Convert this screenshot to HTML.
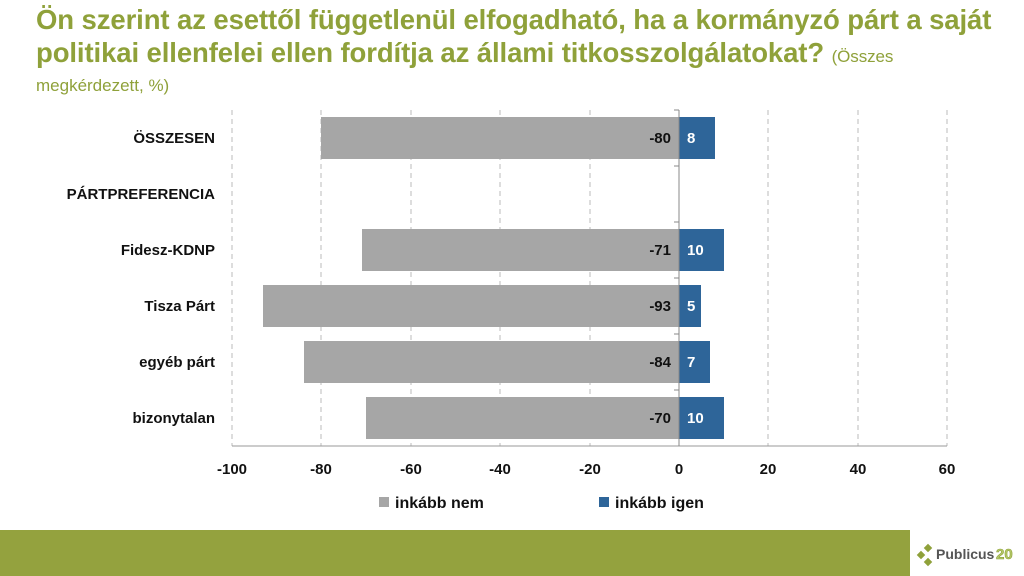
<!DOCTYPE html>
<html><head><meta charset="utf-8"><style>
body{margin:0;width:1024px;height:576px;overflow:hidden;background:#fff;font-family:"Liberation Sans",sans-serif;position:relative}
.t{position:absolute;left:36px;top:3px;width:990px;color:#8FA13A;font-weight:bold;font-size:27.5px;line-height:33px;letter-spacing:-0.1px}
.t span{font-weight:normal;font-size:17px}
.s{position:absolute;left:36px;top:76px;color:#8FA13A;font-size:17px}
</style></head><body>
<div class="t">Ön szerint az esettől függetlenül elfogadható, ha a kormányzó párt a saját politikai ellenfelei ellen fordítja az állami titkosszolgálatokat? <span>(Összes</span></div>
<div class="s">megkérdezett, %)</div>
<svg width="1024" height="576" style="position:absolute;left:0;top:0" font-family="Liberation Sans, sans-serif">
<g stroke="#bbb" stroke-dasharray="5,4" stroke-width="1">
<line x1="232" y1="110" x2="232" y2="446"/><line x1="321" y1="110" x2="321" y2="446"/><line x1="411" y1="110" x2="411" y2="446"/><line x1="500" y1="110" x2="500" y2="446"/><line x1="590" y1="110" x2="590" y2="446"/><line x1="768" y1="110" x2="768" y2="446"/><line x1="858" y1="110" x2="858" y2="446"/><line x1="947" y1="110" x2="947" y2="446"/>
</g>
<g fill="#A6A6A6">
<rect x="321" y="117" width="358" height="42"/>
<rect x="362" y="229" width="317" height="42"/>
<rect x="263" y="285" width="416" height="42"/>
<rect x="304" y="341" width="375" height="42"/>
<rect x="366" y="397" width="313" height="42"/>
</g>
<g fill="#2E6599">
<rect x="679" y="117" width="36" height="42"/>
<rect x="679" y="229" width="45" height="42"/>
<rect x="679" y="285" width="22" height="42"/>
<rect x="679" y="341" width="31" height="42"/>
<rect x="679" y="397" width="45" height="42"/>
</g>
<line x1="232" y1="446" x2="947" y2="446" stroke="#999"/>
<line x1="679" y1="110" x2="679" y2="446" stroke="#888"/>
<g stroke="#888"><line x1="674" y1="110" x2="679" y2="110"/><line x1="674" y1="166" x2="679" y2="166"/><line x1="674" y1="222" x2="679" y2="222"/><line x1="674" y1="278" x2="679" y2="278"/><line x1="674" y1="334" x2="679" y2="334"/><line x1="674" y1="390" x2="679" y2="390"/></g>
<g font-size="15" font-weight="bold" text-anchor="end" fill="#111">
<text x="671" y="143">-80</text><text x="671" y="255">-71</text><text x="671" y="311">-93</text><text x="671" y="367">-84</text><text x="671" y="423">-70</text>
<text x="215" y="143">ÖSSZESEN</text><text x="215" y="199">PÁRTPREFERENCIA</text><text x="215" y="255">Fidesz-KDNP</text><text x="215" y="311">Tisza Párt</text><text x="215" y="367">egyéb párt</text><text x="215" y="423">bizonytalan</text>
</g>
<g font-size="15" font-weight="bold" fill="#fff">
<text x="687" y="143">8</text><text x="687" y="255">10</text><text x="687" y="311">5</text><text x="687" y="367">7</text><text x="687" y="423">10</text>
</g>
<g font-size="15" font-weight="bold" text-anchor="middle" fill="#111">
<text x="232" y="474">-100</text><text x="321" y="474">-80</text><text x="411" y="474">-60</text><text x="500" y="474">-40</text><text x="590" y="474">-20</text><text x="679" y="474">0</text><text x="768" y="474">20</text><text x="858" y="474">40</text><text x="947" y="474">60</text>
</g>
<rect x="379" y="497" width="10" height="10" fill="#A6A6A6"/>
<text x="395" y="508" font-size="16" font-weight="bold" fill="#111">inkább nem</text>
<rect x="599" y="497" width="10" height="10" fill="#2E6599"/>
<text x="615" y="508" font-size="16" font-weight="bold" fill="#111">inkább igen</text>
<rect x="0" y="530" width="910" height="46" fill="#94A23E"/>
<g fill="#8FA13A"><rect x="925" y="545" width="6" height="6" transform="rotate(45 928 548)"/><rect x="918" y="552" width="6" height="6" transform="rotate(45 921 555)"/><rect x="925" y="559" width="6" height="6" transform="rotate(45 928 562)"/></g>
<text x="936" y="559" font-size="14" font-weight="bold" fill="#555">Publicus</text>
<text x="996" y="559" font-size="15" font-weight="bold" fill="#B5C96A" stroke="#8FA13A" stroke-width="0.6">20</text>
</svg>
</body></html>
